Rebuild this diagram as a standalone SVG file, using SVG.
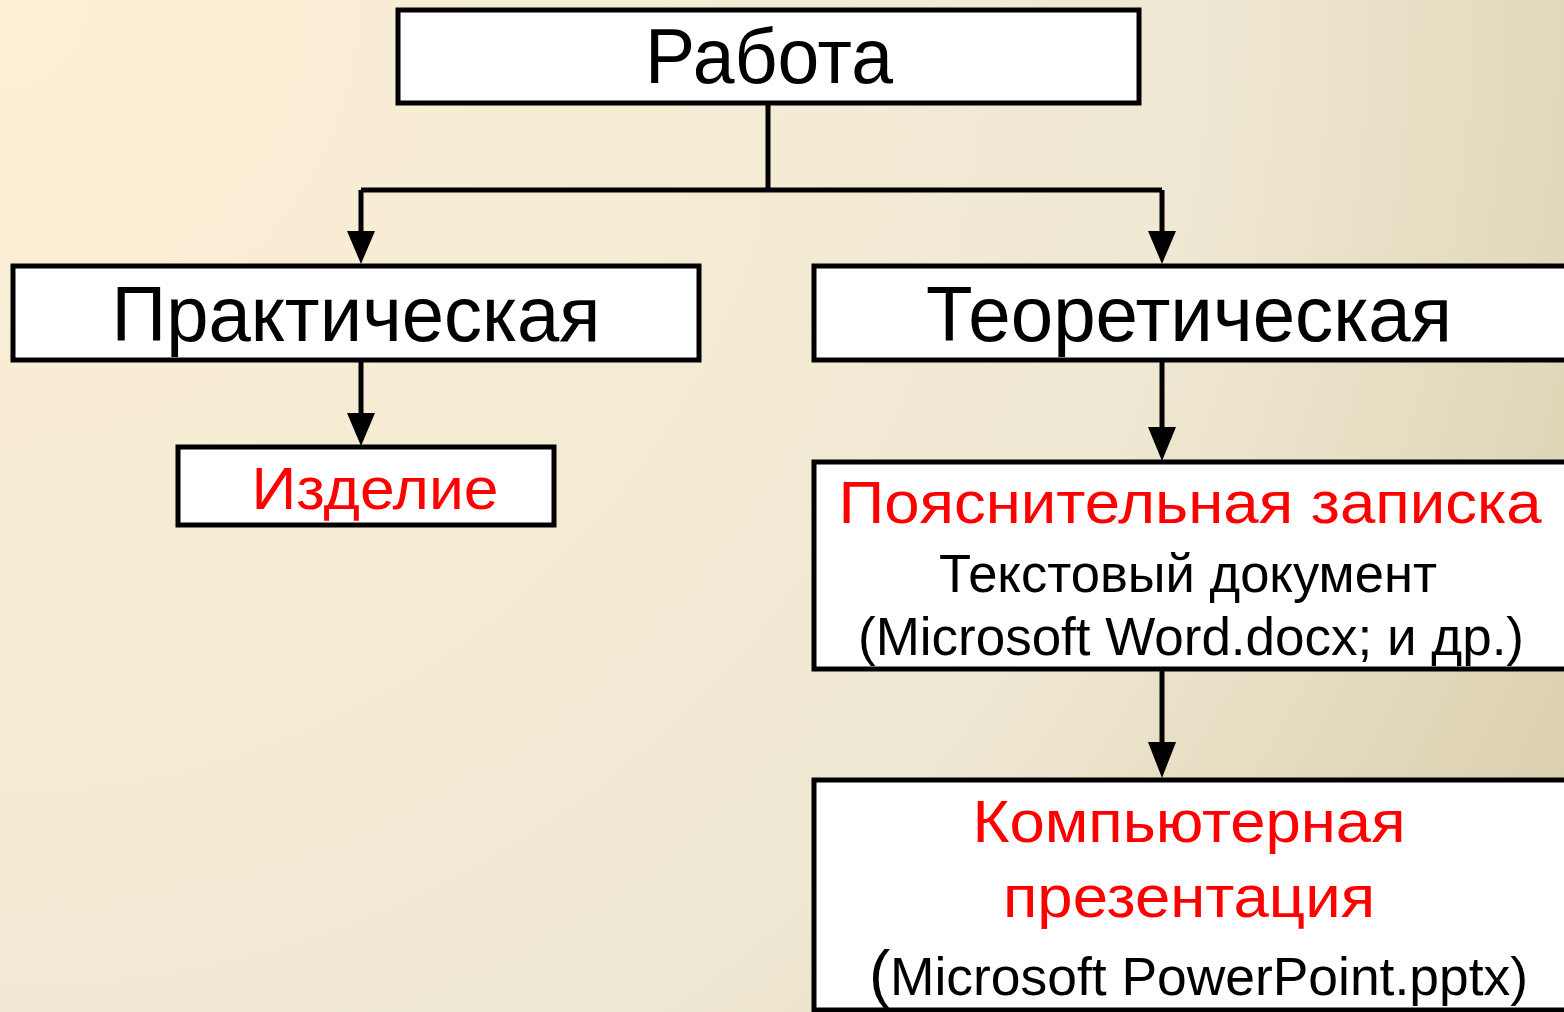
<svg xmlns="http://www.w3.org/2000/svg" width="1564" height="1012" viewBox="0 0 1564 1012">
<defs>
<radialGradient id="bg" gradientUnits="userSpaceOnUse" cx="0" cy="0" r="1850">
<stop offset="0" stop-color="#fdefd5"/>
<stop offset="0.45" stop-color="#f3ebd4"/>
<stop offset="0.65" stop-color="#efe8d2"/>
<stop offset="0.85" stop-color="#e2d8bb"/>
<stop offset="1" stop-color="#d6cba9"/>
</radialGradient>
<style>
.box{fill:#fff;stroke:#000;stroke-width:5}
.con{fill:none;stroke:#000;stroke-width:5}
.t{font-family:"Liberation Sans",Arial,sans-serif;text-anchor:middle}
.big{font-size:77px;fill:#000}
.red{font-size:60px;fill:#ff0000}
.blk{font-size:54px;fill:#000}
</style>
</defs>
<rect width="1564" height="1012" fill="url(#bg)"/>
<g id="connectors">
<path class="con" d="M768,103 V190"/>
<path class="con" d="M361,190 H1162"/>
<path class="con" d="M361,190 V231"/>
<path d="M347,231 L375,231 L361,264 Z"/>
<path class="con" d="M1162,190 V231"/>
<path d="M1148,231 L1176,231 L1162,264 Z"/>
<path class="con" d="M361,360 V414"/>
<path d="M347,413 L375,413 L361,446 Z"/>
<path class="con" d="M1162,360 V428"/>
<path d="M1148,427 L1176,427 L1162,461 Z"/>
<path class="con" d="M1162,669 V744"/>
<path d="M1148,742 L1176,742 L1162,778 Z"/>
</g>
<g id="node-rabota">
<rect class="box" x="398" y="10" width="741" height="93"/>
<text class="t big" x="769" y="83" textLength="248" lengthAdjust="spacingAndGlyphs">Работа</text>
</g>
<g id="node-prakt">
<rect class="box" x="13" y="266" width="686" height="94"/>
<text class="t big" x="356" y="341" textLength="489" lengthAdjust="spacingAndGlyphs">Практическая</text>
</g>
<g id="node-teor">
<rect class="box" x="814" y="266" width="760" height="94"/>
<text class="t big" x="1189" y="341" textLength="526" lengthAdjust="spacingAndGlyphs">Теоретическая</text>
</g>
<g id="node-izdelie">
<rect class="box" x="178" y="447" width="376" height="78"/>
<text class="t red" x="375" y="509" textLength="247" lengthAdjust="spacingAndGlyphs">Изделие</text>
</g>
<g id="node-zapiska">
<rect class="box" x="814" y="462" width="760" height="207"/>
<text class="t red" x="1190" y="523" textLength="703" lengthAdjust="spacingAndGlyphs">Пояснительная записка</text>
<text class="t blk" x="1188" y="592" textLength="498" lengthAdjust="spacingAndGlyphs">Текстовый документ</text>
<text class="t blk" x="1191" y="655" textLength="666" lengthAdjust="spacingAndGlyphs">(Microsoft Word.docx; и др.)</text>
</g>
<g id="node-prez">
<rect class="box" x="814" y="780" width="760" height="230"/>
<text class="t red" x="1189" y="842" textLength="433" lengthAdjust="spacingAndGlyphs">Компьютерная</text>
<text class="t red" x="1189" y="917" textLength="372" lengthAdjust="spacingAndGlyphs">презентация</text>
<text class="t blk" x="869" y="996" style="text-anchor:start;font-size:64px">(</text>
<text class="t blk" x="890" y="995" style="text-anchor:start" textLength="638" lengthAdjust="spacingAndGlyphs">Microsoft PowerPoint.pptx)</text>
</g>
</svg>
